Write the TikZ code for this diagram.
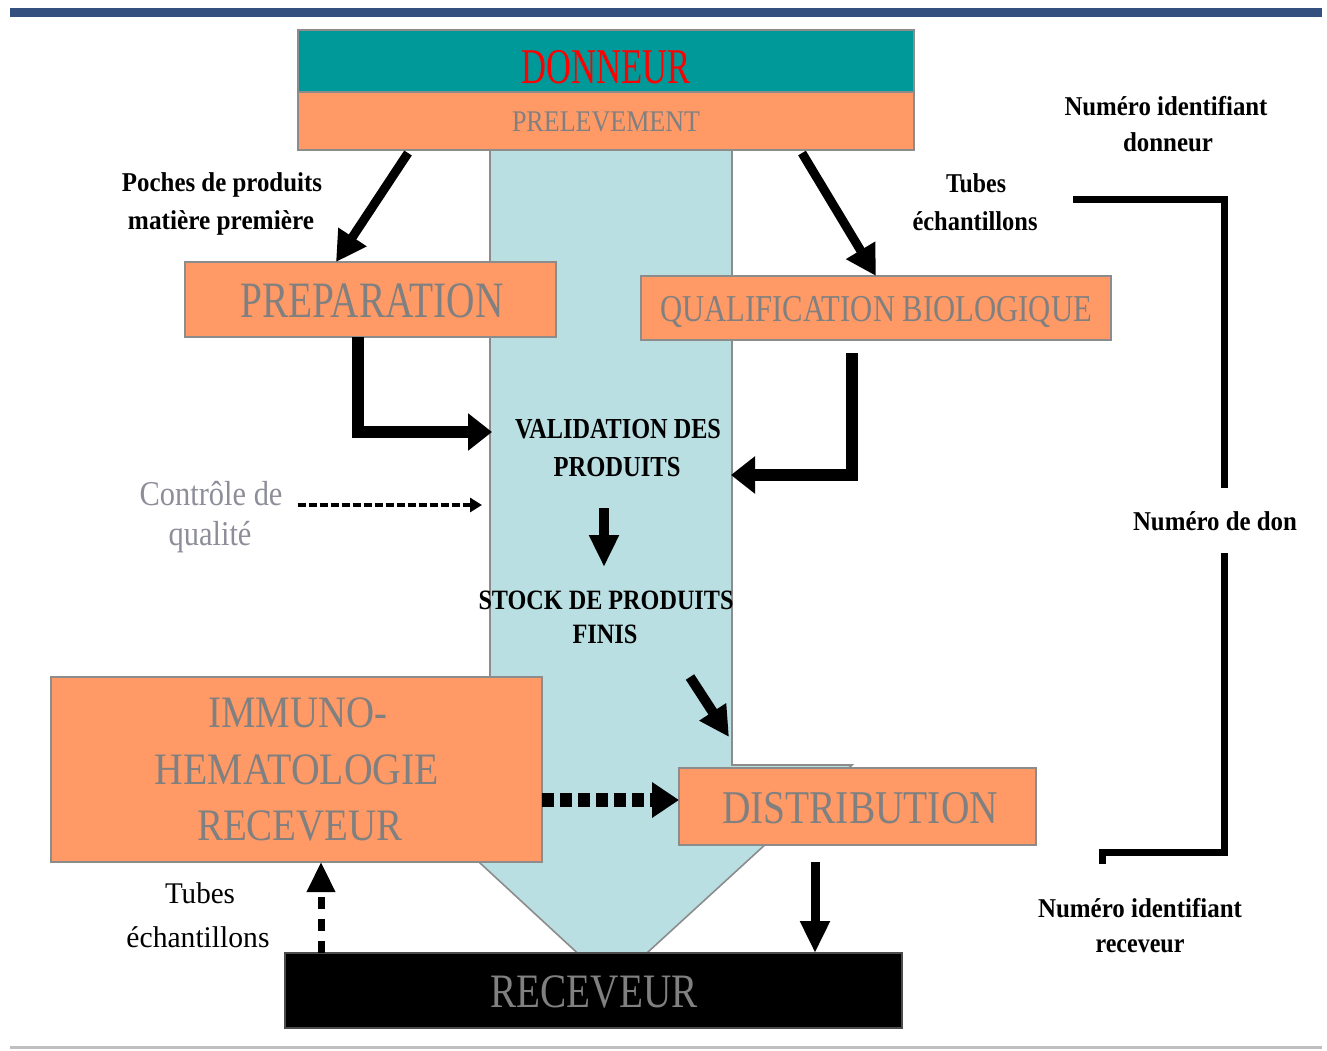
\documentclass[tikz,border=0pt]{standalone}
\usepackage{fontspec}
\usepackage{graphicx}
\setmainfont{Liberation Serif}
\usetikzlibrary{arrows.meta,calc}
\definecolor{tealbox}{HTML}{009999}
\definecolor{orangebox}{HTML}{FF9966}
\definecolor{lblue}{HTML}{B9DFE2}
\definecolor{tgray}{HTML}{808080}
\definecolor{bgray}{HTML}{8C8C8C}
\definecolor{barblue}{HTML}{34507F}
\definecolor{cgray}{HTML}{8E8E9A}
\newdimen\tlunit \tlunit=0.5pt
\newcommand\tl[2]{\resizebox{#1\tlunit}{\height}{#2}}
\tikzset{
  txt/.style={inner sep=0pt, outer sep=0pt, anchor=base},
  box/.style={draw=bgray, line width=0.8pt, fill=orangebox, inner sep=0pt, outer sep=0pt},
  fs/.style={font=\fontsize{#1}{#1}\selectfont},
  fsb/.style={font=\fontsize{#1}{#1}\selectfont\bfseries},
  arrA/.style={line width=4.5pt, -{Triangle[length=15pt,width=16pt]}},
  elbowarr/.style={line width=6pt, line join=miter, -{Triangle[length=12pt,width=18pt]}},
  downarr/.style={line width=5pt, -{Triangle[length=16pt,width=14pt]}},
  thinarr/.style={line width=2pt, dash pattern=on 4pt off 1.5pt, -{Triangle[length=6pt,width=7pt]}},
  sqarr/.style={line width=7pt, dash pattern=on 6pt off 3pt, -{Triangle[length=13.5pt,width=17pt]}},
  uparr/.style={line width=3.5pt, dash pattern=on 6pt off 5pt, -{Triangle[length=15pt,width=13.5pt]}},
  bracket/.style={line width=3.5pt, line join=miter},
}
\begin{document}
\begin{tikzpicture}[x=0.5pt,y=-0.5pt]
\useasboundingbox (0,0) rectangle (1327,1050);
% header bar and bottom line
\fill[barblue] (10,8) rectangle (1322,17);
\draw[black!25, line width=1.5pt] (10,1047) -- (1322,1047);

% big light-blue block arrow
\draw[fill=lblue, draw=bgray, line width=0.8pt]
  (490,150) -- (732,150) -- (732,765) -- (852,765) -- (612,985) -- (374,765) -- (490,765) -- cycle;

% boxes
\node[box, fill=tealbox, minimum width=308pt, minimum height=31pt] (donneur) at (606,61) {};
\node[box, minimum width=308pt, minimum height=29pt] (prelev) at (606,121) {};
\node[box, minimum width=185.5pt, minimum height=37.5pt] (prep) at (370.5,299.5) {};
\node[box, minimum width=235pt, minimum height=32pt] (qual) at (876,308) {};
\node[box, minimum width=245.5pt, minimum height=92.5pt] (immuno) at (296.5,769.5) {};
\node[box, minimum width=178.5pt, minimum height=38.5pt] (distrib) at (857.5,806.5) {};
\node[box, fill=black, draw=black!70, minimum width=308.5pt, minimum height=37.5pt] (receveur) at (593.5,990.5) {};

% box texts
\node[txt, fs=25, text=red] (tDonneur) at (606,83) {\tl{169}{DONNEUR}};
\node[txt, fs=15, text=tgray] (tPrelev) at (606,131) {\tl{188}{PRELEVEMENT}};
\node[txt, fs=25.5, text=tgray] (tPrep) at (372,317) {\tl{263}{PREPARATION}};
\node[txt, fs=19, text=tgray] (tQual) at (876,321) {\tl{432}{QUALIFICATION BIOLOGIQUE}};
\node[txt, fs=22.5, text=tgray] (tImm1) at (298,727) {\tl{179}{IMMUNO-}};
\node[txt, fs=22.5, text=tgray] (tImm2) at (297,784) {\tl{284}{HEMATOLOGIE}};
\node[txt, fs=22.5, text=tgray] (tImm3) at (300,840) {\tl{206}{RECEVEUR}};
\node[txt, fs=23.5, text=tgray] (tDistrib) at (860,823) {\tl{276}{DISTRIBUTION}};
\node[txt, fs=24, text=tgray] (tReceveur) at (594,1007) {\tl{207}{RECEVEUR}};

% labels
\node[txt, fsb=13.6] (tNumD1) at (1166,115) {\tl{203}{Numéro identifiant}};
\node[txt, fsb=13.6] (tNumD2) at (1168,151) {\tl{90}{donneur}};
\node[txt, fsb=13.6] (tPoch1) at (222,191) {\tl{200}{Poches de produits}};
\node[txt, fsb=13.6] (tPoch2) at (221,229) {\tl{186}{matière première}};
\node[txt, fs=13.6] (tTubes1) at (976,192) {\tl{60}{\bfseries Tubes}};
\node[txt, fs=13.6] (tTubes2) at (975,230) {\tl{125}{\bfseries échantillons}};
\node[txt, fsb=14.5] (tVal1) at (618,438) {\tl{206}{VALIDATION DES}};
\node[txt, fsb=14.5] (tVal2) at (617,476) {\tl{127}{PRODUITS}};
\node[txt, fsb=14] (tStock1) at (606,609) {\tl{255}{STOCK DE PRODUITS}};
\node[txt, fsb=14] (tStock2) at (605,643) {\tl{65}{FINIS}};
\node[txt, fs=17.4, text=cgray] (tCtrl1) at (211,505) {\tl{143}{Contrôle de}};
\node[txt, fs=17.4, text=cgray] (tCtrl2) at (210,545) {\tl{83}{qualité}};
\node[txt, fs=15] (tTubes3) at (200,903) {\tl{70}{Tubes}};
\node[txt, fs=15] (tTubes4) at (198,947) {\tl{143}{échantillons}};
\node[txt, fsb=13.6] (tDon) at (1215,530) {\tl{164}{Numéro de don}};
\node[txt, fsb=13.6] (tNumR1) at (1140,917) {\tl{204}{Numéro identifiant}};
\node[txt, fsb=13.6] (tNumR2) at (1140,952) {\tl{89}{receveur}};

% free-end coordinates
\coordinate (valL) at (492,432);
\coordinate (valR) at (731,475);
\coordinate (ctrlEnd) at (482,505);
\coordinate (vTop) at (604,508);
\coordinate (vBot) at (604,567);
\coordinate (sTop) at (690,677);
\coordinate (sBot) at (729,737);
\coordinate (br1) at (1073,199);
\coordinate (br2) at (1224,488);
\coordinate (br3) at (1224,553);
\coordinate (br4) at (1102,852);
\coordinate (br5) at (1102,864);

% connectors
\draw[arrA] ($(prelev.south)+(-198,3)$) -- ($(prep.north)+(-34.5,0)$);
\draw[arrA] ($(prelev.south)+(196,3)$) -- (qual.north);
\draw[elbowarr] ($(prep.south)+(-12.5,0)$) |- (valL);
\draw[elbowarr] ($(qual.south)+(-24,13)$) |- (valR);
\draw[thinarr] ($(tCtrl1.base east)+(15,0)$) -- (ctrlEnd);
\draw[downarr] (vTop) -- (vBot);
\draw[line width=5pt, -{Triangle[length=15pt,width=15pt]}] (sTop) -- (sBot);
\draw[sqarr] ($(immuno.east)+(0,30.5)$) -- ($(distrib.west)+(0,-6.5)$);
\draw[line width=4.5pt, -{Triangle[length=16pt,width=14pt]}] ($(distrib.south)+(-42.5,17)$) -- ($(receveur.north)+(221.5,0)$);
\draw[uparr] ($(receveur.north)+(-272.5,0)$) -- ($(immuno.south)+(24.5,0)$);
\draw[bracket] (br1) -| (br2);
\draw[bracket] (br3) |- (br4) -- (br5);
\end{tikzpicture}
\end{document}
